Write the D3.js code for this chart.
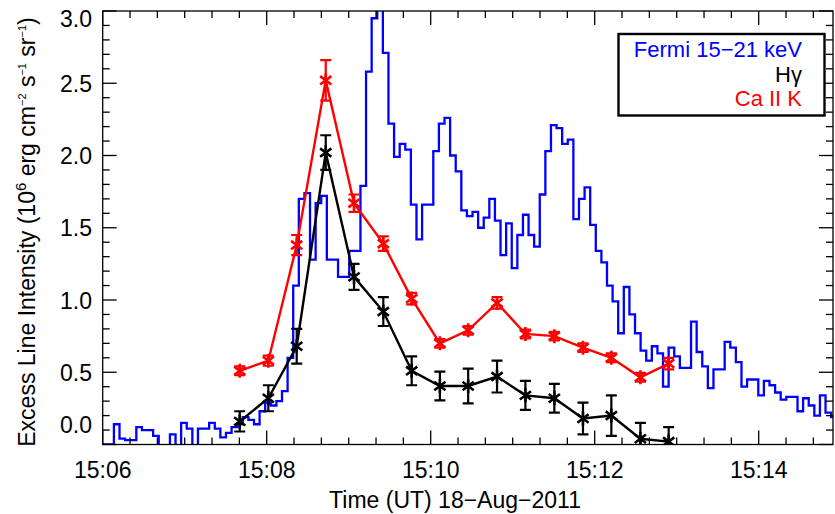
<!DOCTYPE html>
<html><head><meta charset="utf-8">
<script src="https://cdn.jsdelivr.net/npm/d3@7"></script>
<style>body{margin:0;background:#fff}text{font-family:"Liberation Sans",Arial,sans-serif}</style>
</head><body><svg id="c" width="835" height="514"></svg>
<script>
// Fermi 15-21 keV light curve, 4.1 s bins starting 15:06:00 (scaled units)
const fermiBinSec = 4.1;
const fermi = [0.0,0.0,0.14,0.04,0.03,0.03,0.12,0.10,0.10,0.06,-0.05,-0.05,0.07,-0.02,0.15,0.11,-0.05,0.11,0.11,0.15,
 0.11,0.05,0.08,0.12,0.14,0.19,0.17,0.14,0.23,0.29,0.27,0.30,0.37,0.60,1.10,1.70,1.74,1.28,1.67,1.72,
 1.28,1.28,1.16,1.16,1.34,1.34,1.79,2.58,2.95,3.2,2.71,2.22,1.99,2.08,2.04,1.66,1.42,1.66,1.66,2.03,
 2.22,2.26,2.0,1.89,1.62,1.58,1.61,1.50,1.57,1.70,1.55,1.31,1.53,1.22,1.45,1.59,1.45,1.37,1.73,2.03,
 2.21,2.19,2.08,2.11,1.56,1.70,1.78,1.52,1.34,1.26,1.10,0.99,0.77,1.09,0.90,0.77,0.65,0.58,0.68,0.63,
 0.40,0.67,0.61,0.53,0.53,0.85,0.64,0.54,0.39,0.52,0.52,0.71,0.67,0.57,0.40,0.45,0.45,0.34,0.44,0.41,
 0.36,0.31,0.33,0.33,0.23,0.32,0.27,0.20,0.34,0.22,0.19];
// observation times, minutes after 15:06:00
const obsMin = [1.671,2.020,2.366,2.720,3.065,3.422,3.768,4.112,4.457,4.809,5.155,5.508,5.857,6.203,6.557,6.902];
const caK    = [0.51,0.58,1.38,2.52,1.67,1.39,1.01,0.70,0.79,0.98,0.765,0.75,0.67,0.60,0.465,0.56];
const caKErr = [0.03,0.035,0.07,0.14,0.06,0.05,0.04,0.03,0.03,0.04,0.03,0.03,0.03,0.03,0.03,0.04];
const hg     = [0.16,0.32,0.68,2.02,1.16,0.92,0.51,0.405,0.405,0.47,0.34,0.32,0.18,0.20,0.04,0.02];
const hgErr  = [0.07,0.09,0.12,0.12,0.09,0.10,0.10,0.10,0.12,0.11,0.10,0.10,0.11,0.14,0.11,0.10];
const xTickLabels = ["15:06","15:08","15:10","15:12","15:14"];
const yTicks = [0,0.5,1,1.5,2,2.5,3];

const svg = d3.select("#c");
const L=102.7,R=833,T=11,B=444.5;
const FS=23;
const x = d3.scaleLinear().domain([0,(R-L)/82]).range([L,R]);
const y = d3.scaleLinear().domain([0,3]).range([B,T]);

svg.append("clipPath").attr("id","cp").append("rect").attr("x",L).attr("y",T).attr("width",R-L).attr("height",B-T);

const fpts = fermi.map((v,i)=>[i*fermiBinSec/60,v]);
fpts.push([fermi.length*fermiBinSec/60, fermi[fermi.length-1]]);
svg.append("path").attr("clip-path","url(#cp)").attr("fill","none").attr("stroke","#0000ff").attr("stroke-width",2.3)
  .attr("d", d3.line().x(d=>x(d[0])).y(d=>y(d[1])).curve(d3.curveStepAfter)(fpts));

function series(vals, errs, col){
  const g = svg.append("g").attr("clip-path","url(#cp)");
  g.append("path").attr("fill","none").attr("stroke",col).attr("stroke-width",2.4)
    .attr("d", d3.line().x((d,i)=>x(obsMin[i])).y(d=>y(d))(vals));
  vals.forEach((v,i)=>{
    const cx=x(obsMin[i]), y1=y(v+errs[i]), y2=y(v-errs[i]);
    g.append("path").attr("stroke",col).attr("stroke-width",2.2).attr("fill","none")
      .attr("d",`M${cx},${y1}V${y2}M${cx-5.5},${y1}H${cx+5.5}M${cx-5.5},${y2}H${cx+5.5}`);
    const cy=y(v), r=7;
    g.append("path").attr("stroke",col).attr("stroke-width",2.6)
      .attr("d",`M${cx},${cy-r}V${cy+r}M${cx-r*0.8},${cy-r*0.6}L${cx+r*0.8},${cy+r*0.6}M${cx-r*0.8},${cy+r*0.6}L${cx+r*0.8},${cy-r*0.6}`);
  });
}
series(caK, caKErr, "#ff0000");
series(hg, hgErr, "#000000");

const ax = svg.append("g").attr("stroke","#000").attr("stroke-width",1.3);
ax.append("rect").attr("x",L).attr("y",T).attr("width",R-L).attr("height",B-T).attr("fill","none");
for(let s=0; s<=(R-L)/82*60+0.1; s+=20){
  const xx=x(s/60), big = (s%120===0), len = big?14:7;
  ax.append("line").attr("x1",xx).attr("x2",xx).attr("y1",B).attr("y2",B-len);
  ax.append("line").attr("x1",xx).attr("x2",xx).attr("y1",T).attr("y2",T+len);
}
for(let k=0;k<=30;k++){
  const yy=y(k/10), big=(k%5===0), len=big?14:7;
  ax.append("line").attr("x1",L).attr("x2",L+len).attr("y1",yy).attr("y2",yy);
  ax.append("line").attr("x1",R).attr("x2",R-len).attr("y1",yy).attr("y2",yy);
}
xTickLabels.forEach((t,i)=>{
  svg.append("text").attr("x",x(i*2)).attr("y",478).attr("text-anchor","middle").attr("font-size",FS).text(t);
});
yTicks.forEach(v=>{
  const yy=Math.min(Math.max(y(v)+8.5,27),433);
  svg.append("text").attr("x",92).attr("y",yy).attr("text-anchor","end").attr("font-size",FS).text(v.toFixed(1));
});
svg.append("text").attr("x",455).attr("y",508).attr("text-anchor","middle").attr("font-size",FS).text("Time (UT) 18−Aug−2011");
const yl = svg.append("text").attr("transform","translate(35,232) rotate(-90)").attr("text-anchor","middle").attr("font-size",FS);
yl.append("tspan").text("Excess Line Intensity (10");
yl.append("tspan").attr("dy",-9).attr("font-size",15).text("6");
yl.append("tspan").attr("dy",9).text(" erg cm");
yl.append("tspan").attr("dy",-9).attr("font-size",11).text("−2");
yl.append("tspan").attr("dy",9).text(" s");
yl.append("tspan").attr("dy",-9).attr("font-size",11).text("−1");
yl.append("tspan").attr("dy",9).text(" sr");
yl.append("tspan").attr("dy",-9).attr("font-size",11).text("−1");
yl.append("tspan").attr("dy",9).text(")");

svg.append("rect").attr("x",618.5).attr("y",34).attr("width",206).attr("height",81.5).attr("fill","#fff").attr("stroke","#000").attr("stroke-width",2.4);
[["Fermi 15−21 keV","#0000ff",57],["Hγ","#000",82],["Ca II K","#ff0000",106]].forEach(d=>{
  svg.append("text").attr("x",802).attr("y",d[2]).attr("text-anchor","end").attr("font-size",22).attr("fill",d[1]).text(d[0]);
});
</script></body></html>
